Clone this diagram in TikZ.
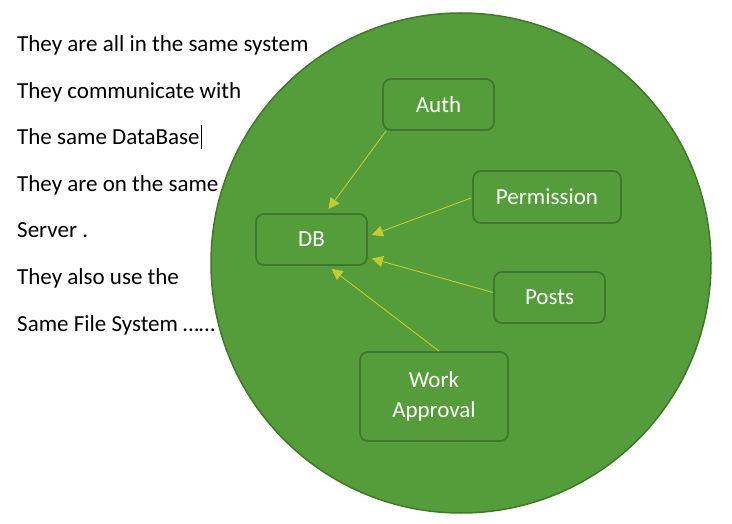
\documentclass[tikz,border=0pt]{standalone}
\usepackage{fontspec}
\setmainfont{Carlito}
\usetikzlibrary{arrows.meta,calc}
\definecolor{gfill}{HTML}{559D3A}
\definecolor{gline}{HTML}{41772A}
\definecolor{arr}{HTML}{C2CB2F}
\begin{document}
\begin{tikzpicture}[x=1pt,y=-1pt,
  box/.style={draw=gline,line width=1.8pt,fill=gfill,rounded corners=8pt,
    text=white,font=\fontsize{23}{28}\selectfont,align=center,inner sep=0pt},
  link/.style={draw=arr,line width=0.9pt,-{Triangle[length=11pt,width=11pt]}},
  txt/.style={anchor=base west,inner sep=0pt,font=\fontsize{23}{28}\selectfont}]
\useasboundingbox (0,0) rectangle (732,524);
\fill[white] (0,0) rectangle (732,524);
\node[circle,draw=gline,line width=1.5pt,fill=gfill,minimum size=500pt,inner sep=0pt] (sys) at (461,263) {};
\node[box,minimum width=111pt,minimum height=51pt] (auth) at (438.5,104.5) {Auth};
\node[box,minimum width=148pt,minimum height=52pt] (perm) at (547,197) {Permission};
\node[box,minimum width=111pt,minimum height=51pt] (db) at (311.5,239.5) {DB};
\node[box,minimum width=111pt,minimum height=51pt] (posts) at (549.5,297.5) {Posts};
\node[box,minimum width=148pt,minimum height=89pt] (work) at (434,396.5) {Work\\[2pt]Approval};
\coordinate (t1) at ($(db.north)+(17,-4)$);
\coordinate (t2) at ($(db.east)+(4,-4.5)$);
\coordinate (t3) at ($(db.east)+(4,19)$);
\coordinate (t4) at ($(db.south)+(20,3)$);
\draw[link] ($(auth.south west)+(4,0)$) -- (t1);
\draw[link] ($(perm.west)+(-1,1)$) -- (t2);
\draw[link] ($(posts.west)+(0,-5)$) -- (t3);
\draw[link] ($(work.north)+(5,0)$) -- (t4);
\node[txt] (l1) at (17,52) {They are all in the same system};
\node[txt] (l2) at (17,98.5) {They communicate with};
\node[txt] (l3) at (17,144.5) {The same DataBase};
\node[txt] (l4) at (17,191.5) {They are on the same};
\node[txt] (l5) at (17,238) {Server .};
\node[txt] (l6) at (17,284.5) {They also use the};
\node[txt] (l7) at (17,331.5) {Same File System ……};
\draw[line width=0.8pt] ($(l3.base east)+(2,5)$) -- ($(l3.base east)+(2,-19)$);
\end{tikzpicture}
\end{document}
